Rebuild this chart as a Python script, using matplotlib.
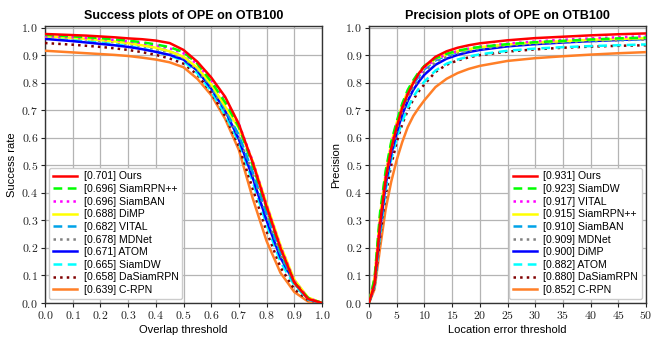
import numpy as np
import matplotlib
matplotlib.use("Agg")
import matplotlib.pyplot as plt
from matplotlib.ticker import FixedLocator, FuncFormatter

plt.rcParams['mathtext.fontset'] = 'cm'
plt.rcParams['font.family'] = ['Liberation Sans', 'DejaVu Sans']

# ---------------- data ----------------
overlap_thr = [0.0, 0.05, 0.1, 0.15, 0.2, 0.25, 0.3, 0.35, 0.4, 0.45, 0.5,
               0.55, 0.6, 0.65, 0.7, 0.75, 0.8, 0.85, 0.9, 0.95, 1.0]

succ_names = ["Ours", "SiamRPN++", "SiamBAN", "DiMP", "VITAL", "MDNet",
              "ATOM", "SiamDW", "DaSiamRPN", "C-RPN"]
succ_auc = [0.701, 0.696, 0.696, 0.688, 0.682, 0.678, 0.671, 0.665, 0.658, 0.639]
succ_ours = [.978, .976, .974, .972, .969, .966, .962, .959, .954, .945, .920, .877, .820, .750, .650, .510, .350, .200, .075, .015, .000]
succ_siamrpnpp = [.975, .972, .969, .966, .963, .959, .954, .948, .940, .930, .912, .870, .805, .730, .640, .500, .345, .195, .075, .018, .000]
succ_siamban = [.970, .968, .966, .963, .960, .956, .951, .945, .937, .926, .908, .868, .810, .740, .650, .515, .355, .205, .080, .018, .000]
succ_dimp = [.970, .967, .964, .960, .956, .951, .945, .937, .928, .915, .895, .855, .795, .715, .635, .515, .360, .210, .085, .020, .000]
succ_vital = [.972, .969, .966, .962, .957, .952, .946, .938, .928, .915, .895, .852, .790, .705, .610, .475, .325, .180, .072, .016, .000]
succ_mdnet = [.968, .965, .962, .958, .953, .948, .942, .934, .924, .910, .890, .848, .785, .700, .605, .470, .320, .175, .070, .015, .000]
succ_atom = [.960, .956, .952, .947, .942, .937, .931, .923, .913, .902, .885, .845, .780, .700, .595, .455, .300, .165, .075, .015, .000]
succ_siamdw = [.965, .961, .957, .952, .947, .941, .934, .925, .914, .900, .880, .835, .770, .685, .585, .440, .285, .150, .065, .012, .000]
succ_dasiam = [.945, .942, .939, .935, .931, .926, .920, .912, .902, .889, .870, .830, .765, .680, .570, .415, .260, .130, .050, .010, .000]
succ_crpn = [.917, .914, .911, .908, .905, .902, .898, .892, .885, .875, .857, .815, .756, .670, .556, .380, .225, .110, .040, .005, .000]

loc_thr = [0, 1, 2, 3, 4, 5, 6, 7, 8, 9, 10, 12, 14, 16, 18, 20, 25, 30, 35, 40, 45, 50]

prec_names = ["Ours", "SiamDW", "VITAL", "SiamRPN++", "SiamBAN", "MDNet",
              "DiMP", "ATOM", "DaSiamRPN", "C-RPN"]
prec_score = [0.931, 0.923, 0.917, 0.915, 0.910, 0.909, 0.900, 0.882, 0.880, 0.852]
prec_ours = [.0, .07, .29, .45, .56, .64, .71, .76, .80, .835, .86, .895, .915, .928, .937, .944, .955, .963, .968, .973, .977, .980]
prec_siamdw = [.0, .09, .33, .48, .585, .66, .725, .775, .81, .84, .862, .89, .906, .917, .925, .931, .941, .948, .953, .958, .962, .965]
prec_vital = [.0, .08, .31, .46, .57, .65, .715, .765, .80, .83, .855, .886, .904, .916, .925, .932, .943, .951, .957, .962, .966, .970]
prec_siamrpnpp = [.0, .09, .32, .47, .58, .655, .72, .77, .805, .835, .857, .887, .904, .915, .923, .930, .940, .947, .952, .957, .960, .963]
prec_siamban = [.0, .08, .30, .455, .565, .645, .71, .76, .795, .825, .85, .882, .900, .912, .921, .928, .939, .946, .951, .955, .958, .960]
prec_mdnet = [.0, .07, .28, .44, .55, .63, .695, .745, .785, .815, .842, .875, .895, .908, .917, .924, .936, .943, .948, .952, .955, .958]
prec_dimp = [.0, .07, .27, .43, .54, .62, .685, .735, .775, .805, .83, .866, .888, .902, .912, .920, .933, .941, .947, .952, .956, .960]
prec_atom = [.0, .06, .25, .41, .52, .60, .66, .71, .75, .78, .805, .845, .870, .885, .896, .904, .917, .925, .930, .934, .937, .940]
prec_dasiam = [.0, .06, .24, .39, .50, .585, .65, .70, .74, .77, .795, .84, .866, .882, .893, .901, .914, .922, .928, .932, .935, .937]
prec_crpn = [.0, .05, .20, .34, .44, .52, .585, .64, .68, .71, .737, .785, .815, .836, .851, .862, .880, .890, .897, .903, .908, .912]

colors = ['#ff0000', '#00ff00', '#ff00ff', '#ffff00', '#00a2e8',
          '#808080', '#0000ff', '#00ffff', '#800000', '#ff7f27']
styles = ['-', (0, (3.5, 2.2)), ':', '-', (0, (3.5, 2.2)), ':', '-', (0, (3.5, 2.2)), ':', '-']

succ_data = [succ_ours, succ_siamrpnpp, succ_siamban, succ_dimp, succ_vital,
             succ_mdnet, succ_atom, succ_siamdw, succ_dasiam, succ_crpn]
prec_data = [prec_ours, prec_siamdw, prec_vital, prec_siamrpnpp, prec_siamban,
             prec_mdnet, prec_dimp, prec_atom, prec_dasiam, prec_crpn]

fig = plt.figure(figsize=(6.64, 3.43), dpi=100)
W, H = 664, 343
ax1 = fig.add_axes([45 / W, (343 - 303) / H, 277 / W, 277 / H])
ax2 = fig.add_axes([369 / W, (343 - 303) / H, 277 / W, 277 / H])

def mfmt(fmt):
    return FuncFormatter(lambda v, p: '$' + format(v, fmt) + '$')

def style_axes(ax, xticks, xfmt):
    ax.set_ylim(0, 1.007)
    ax.yaxis.set_major_locator(FixedLocator(np.arange(0, 1.01, 0.1)))
    ax.yaxis.set_major_formatter(mfmt('.1f'))
    ax.xaxis.set_major_locator(FixedLocator(xticks))
    ax.xaxis.set_major_formatter(mfmt(xfmt))
    ax.grid(True, color='#b4b4b4', linewidth=0.9)
    ax.set_axisbelow(True)
    ax.tick_params(labelsize=8.5, length=3, width=0.8, pad=2, colors='#222222')
    for s in ax.spines.values():
        s.set_linewidth(1.0)
        s.set_color('#333333')

leg_kw = dict(fontsize=7.6, handlelength=2.3, labelspacing=0.25,
              borderpad=0.35, handletextpad=0.6, borderaxespad=0.4,
              framealpha=1.0, edgecolor='#cccccc', fancybox=True)

for i in range(len(succ_names)):
    ax1.plot(overlap_thr, succ_data[i], color=colors[i], linestyle=styles[i],
             linewidth=1.8, label='[%.3f] %s' % (succ_auc[i], succ_names[i]),
             zorder=12 - i)
ax1.set_xlim(0, 1)
style_axes(ax1, np.arange(0, 1.01, 0.1), '.1f')
ax1.set_title('Success plots of OPE on OTB100', fontsize=9, fontweight='bold', pad=5)
ax1.set_xlabel('Overlap threshold', fontsize=8, labelpad=2)
ax1.set_ylabel('Success rate', fontsize=8, labelpad=3)
ax1.legend(loc='lower left', **leg_kw)

for i in range(len(prec_names)):
    ax2.plot(loc_thr, prec_data[i], color=colors[i], linestyle=styles[i],
             linewidth=1.8, label='[%.3f] %s' % (prec_score[i], prec_names[i]),
             zorder=12 - i)
ax2.set_xlim(0, 50)
style_axes(ax2, np.arange(0, 51, 5), 'd')
ax2.xaxis.set_major_formatter(FuncFormatter(lambda v, p: '$%d$' % int(round(v))))
ax2.set_title('Precision plots of OPE on OTB100', fontsize=9, fontweight='bold', pad=5)
ax2.set_xlabel('Location error threshold', fontsize=8, labelpad=2)
ax2.set_ylabel('Precision', fontsize=8, labelpad=3)
ax2.legend(loc='lower right', **leg_kw)

fig.savefig('out.png', dpi=100)
